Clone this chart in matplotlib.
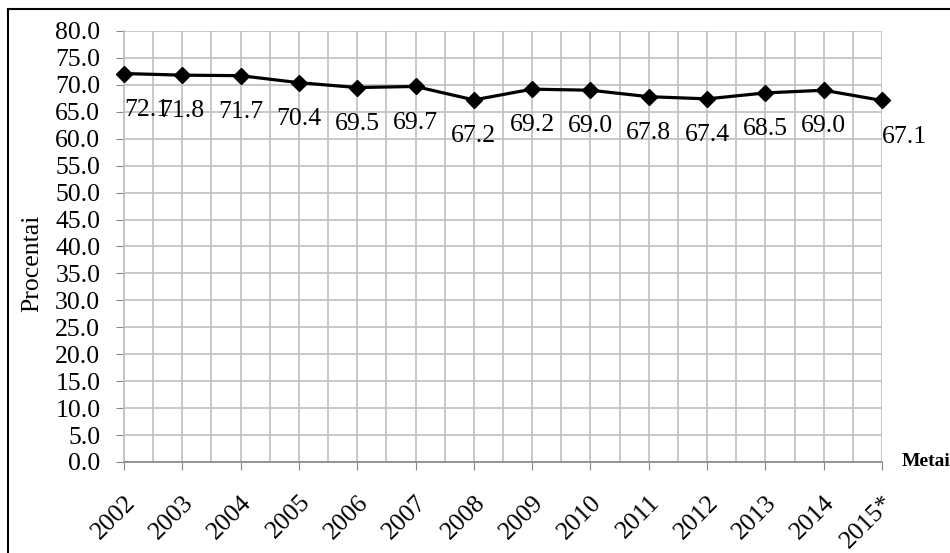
import matplotlib
matplotlib.use('Agg')
import matplotlib.pyplot as plt
from matplotlib.lines import Line2D
import numpy as np

years = ['2002', '2003', '2004', '2005', '2006', '2007', '2008',
         '2009', '2010', '2011', '2012', '2013', '2014', '2015*']
values = [72.1, 71.8, 71.7, 70.4, 69.5, 69.7, 67.2,
          69.2, 69.0, 67.8, 67.4, 68.5, 69.0, 67.1]

plt.rcParams['font.family'] = ['Liberation Serif', 'DejaVu Serif']

fig = plt.figure(figsize=(9.5, 5.53), dpi=100)
ax = fig.add_axes([0.1305, 0.1646, 0.7979, 0.7794])

x = np.arange(len(years))
ax.plot(x, values, color='black', lw=2.3, marker='D', markersize=8.5,
        zorder=5, clip_on=False)

n = len(values)
for i, v in enumerate(values):
    ha = 'left' if i in (0, n - 1) else 'center'
    ax.annotate('%.1f' % v, (x[i], v), xytext=(0, -26),
                textcoords='offset points', ha=ha, va='center',
                fontsize=18.5, zorder=6)

ax.set_xlim(0, n - 1)
ax.set_ylim(0, 80)
ax.set_yticks(np.arange(0, 80.1, 5))
ax.set_yticklabels(['%.1f' % t for t in np.arange(0, 80.1, 5)])
ax.set_xticks(x)
ax.set_xticklabels(years, rotation=45, ha='right', va='top',
                   rotation_mode='anchor')
ax.set_xticks(np.arange(0, n - 1, 0.5), minor=True)

ax.tick_params(axis='both', labelsize=18.5, color='#868686', length=6)
ax.tick_params(axis='y', pad=11)
ax.tick_params(axis='x', pad=15)
ax.tick_params(axis='x', which='minor', length=0)

ax.grid(True, which='major', color='#BFBFBF', lw=1.2)
ax.grid(True, which='minor', axis='x', color='#BFBFBF', lw=1.2)
ax.set_axisbelow(True)

for side in ['top', 'right']:
    ax.spines[side].set_visible(False)
ax.spines['left'].set_color('#BFBFBF')
ax.spines['bottom'].set_color('#868686')
ax.spines['left'].set_linewidth(1.2)
ax.spines['bottom'].set_linewidth(1.2)

ax.set_ylabel('Procentai', fontsize=18.5)
ax.yaxis.set_label_coords(-0.107, 0.462)
fig.text(902 / 950, 0.1646, 'Metai', fontsize=14, fontweight='bold',
         ha='left', va='center')

# outer frame (only top and left edges fall inside the picture)
fig.add_artist(Line2D([0.0084, 0.0084], [0.0, 0.9837], color='black',
                      lw=1.5, transform=fig.transFigure))
fig.add_artist(Line2D([0.0084, 1.0], [0.9837, 0.9837], color='black',
                      lw=1.5, transform=fig.transFigure))

fig.savefig('out.png', dpi=100)
